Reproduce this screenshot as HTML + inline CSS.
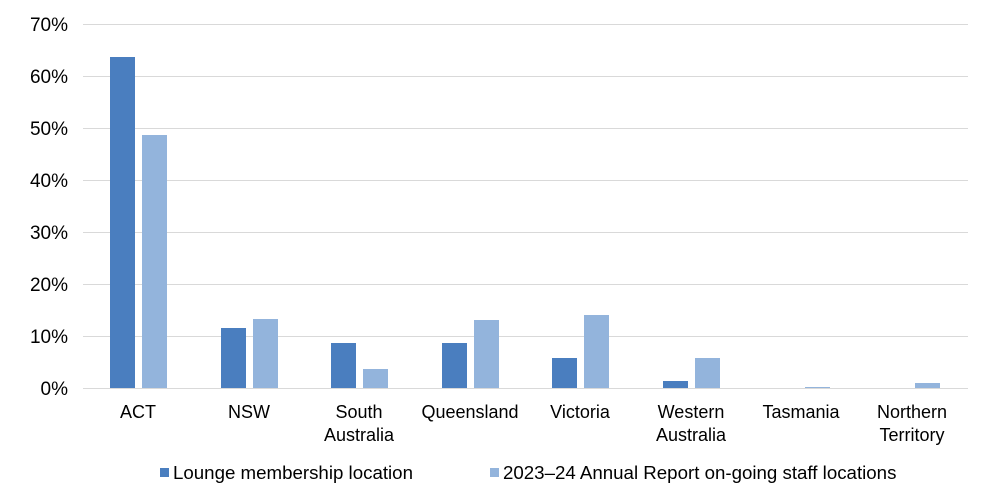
<!DOCTYPE html>
<html><head><meta charset="utf-8"><style>body{margin:0;background:#fff}svg{display:block}text{font-family:"Liberation Sans",Arial,sans-serif;fill:#000}</style></head>
<body>
<svg width="992" height="503" xmlns="http://www.w3.org/2000/svg">
<g stroke="#d9d9d9" stroke-width="1">
<line x1="83" x2="968" y1="24.5" y2="24.5"/><line x1="83" x2="968" y1="76.5" y2="76.5"/><line x1="83" x2="968" y1="128.5" y2="128.5"/><line x1="83" x2="968" y1="180.5" y2="180.5"/><line x1="83" x2="968" y1="232.5" y2="232.5"/><line x1="83" x2="968" y1="284.5" y2="284.5"/><line x1="83" x2="968" y1="336.5" y2="336.5"/>
</g>
<g font-size="19" text-anchor="end">
<text x="68" y="31">70%</text><text x="68" y="83">60%</text><text x="68" y="135">50%</text><text x="68" y="187">40%</text><text x="68" y="239">30%</text><text x="68" y="291">20%</text><text x="68" y="343">10%</text><text x="68" y="395">0%</text>
</g>
<g fill="#4a7ebf">
<rect x="110" y="57" width="25" height="331"/>
<rect x="221" y="328" width="25" height="60"/>
<rect x="331" y="343" width="25" height="45"/>
<rect x="442" y="343" width="25" height="45"/>
<rect x="552" y="358" width="25" height="30"/>
<rect x="663" y="381" width="25" height="7"/>
</g>
<g fill="#93b4dc">
<rect x="142" y="135" width="25" height="253"/>
<rect x="253" y="319" width="25" height="69"/>
<rect x="363" y="369" width="25" height="19"/>
<rect x="474" y="320" width="25" height="68"/>
<rect x="584" y="315" width="25" height="73"/>
<rect x="695" y="358" width="25" height="30"/>
<rect x="805" y="387" width="25" height="1"/>
<rect x="915" y="383" width="25" height="5"/>
</g>
<line x1="83" x2="968" y1="388.5" y2="388.5" stroke="#d9d9d9"/>
<g font-size="18" text-anchor="middle">
<text x="138" y="418">ACT</text>
<text x="249" y="418">NSW</text>
<text x="359" y="418">South</text><text x="359" y="441">Australia</text>
<text x="470" y="418">Queensland</text>
<text x="580" y="418">Victoria</text>
<text x="691" y="418">Western</text><text x="691" y="441">Australia</text>
<text x="801" y="418">Tasmania</text>
<text x="912" y="418">Northern</text><text x="912" y="441">Territory</text>
</g>
<rect x="160" y="468" width="9" height="9" fill="#4a7ebf"/>
<text x="173" y="479" font-size="18.7">Lounge membership location</text>
<rect x="490" y="468" width="9" height="9" fill="#93b4dc"/>
<text x="503" y="479" font-size="18.7">2023–24 Annual Report on-going staff locations</text>
</svg>
</body></html>
